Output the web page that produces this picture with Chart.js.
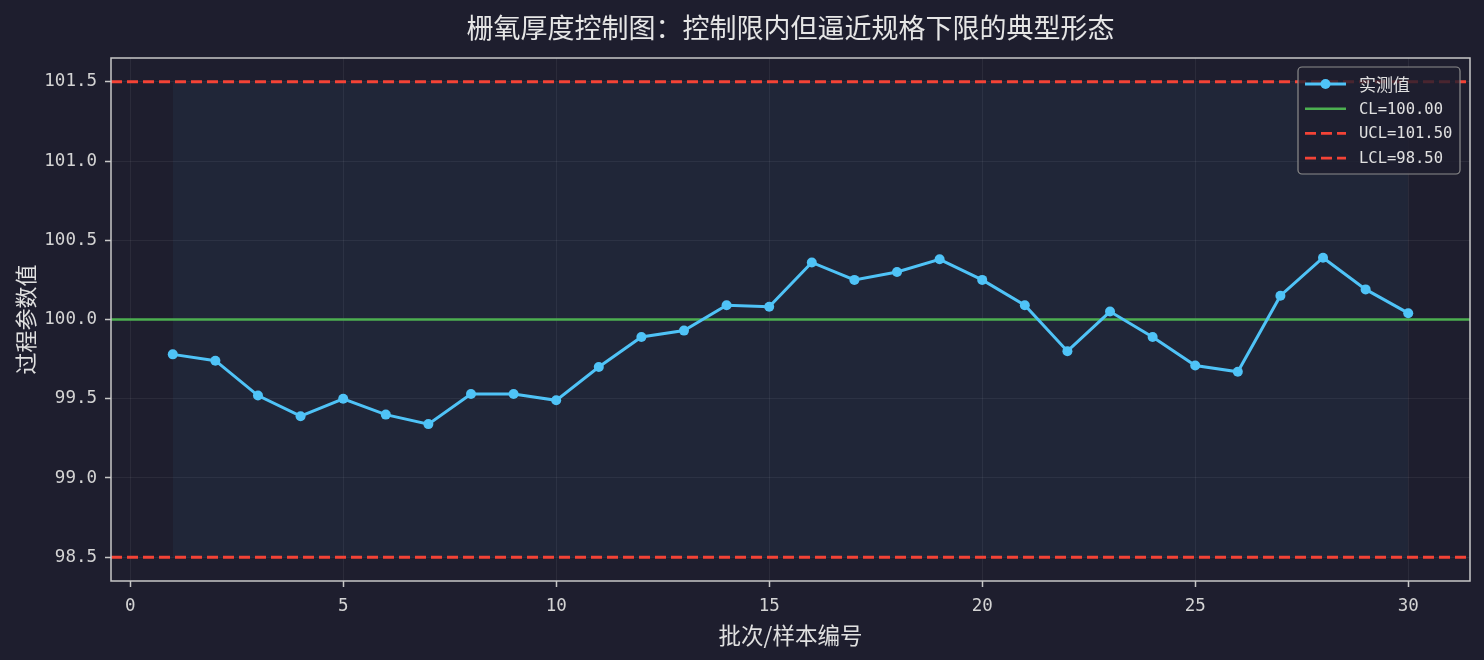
<!DOCTYPE html>
<html>
<head>
<meta charset="utf-8">
<script src="https://cdn.jsdelivr.net/npm/chart.js@4/dist/chart.umd.min.js"></script>
<style>
  html, body { margin: 0; padding: 0; background: #1e1e2e; }
  #wrap { width: 1484px; height: 660px; }
</style>
</head>
<body>
<div id="wrap"><canvas id="spc"></canvas></div>
<script>
// sample numbers and measured gate oxide thickness
const sampleNo = [1, 2, 3, 4, 5, 6, 7, 8, 9, 10, 11, 12, 13, 14, 15,
  16, 17, 18, 19, 20, 21, 22, 23, 24, 25, 26, 27, 28, 29, 30];
const measured = [99.78, 99.74, 99.52, 99.39, 99.50, 99.40, 99.34, 99.53, 99.53, 99.49,
  99.70, 99.89, 99.93, 100.09, 100.08, 100.36, 100.25, 100.30, 100.38, 100.25,
  100.09, 99.80, 100.05, 99.89, 99.71, 99.67, 100.15, 100.39, 100.19, 100.04];

const CL = 100.0;
const UCL = 101.5;
const LCL = 98.5;

const xTicks = [0, 5, 10, 15, 20, 25, 30];
const yTicks = [98.5, 99.0, 99.5, 100.0, 100.5, 101.0, 101.5];
const xMin = -0.45, xMax = 31.45;
const yMin = 98.35, yMax = 101.65;

const titleText = '栅氧厚度控制图：控制限内但逼近规格下限的典型形态';

const monoFont = "'DejaVu Sans Mono', 'Noto Sans CJK SC', monospace";
const cjkFont = "'Noto Sans CJK SC', 'Noto Sans', sans-serif";
const textColor = '#d4d4d4';
const gridColor = 'rgba(255,255,255,0.06)';

const hline = (y) => [{ x: xMin, y: y }, { x: xMax, y: y }];

const bgPlugin = {
  id: 'bg',
  beforeDraw(chart) {
    const ctx = chart.ctx;
    ctx.save();
    ctx.fillStyle = '#1e1e2e';
    ctx.fillRect(0, 0, chart.width, chart.height);
    ctx.restore();
  }
};

// title centred over the plot area (matplotlib style)
const axesTitle = {
  id: 'axesTitle',
  afterDraw(chart) {
    const { ctx, chartArea: a } = chart;
    ctx.save();
    ctx.font = '27px ' + cjkFont;
    ctx.fillStyle = '#e6e6e6';
    ctx.textAlign = 'center';
    ctx.textBaseline = 'middle';
    ctx.fillText(titleText, (a.left + a.right) / 2, a.top - 30);
    ctx.restore();
  }
};

const framePlugin = {
  id: 'frame',
  afterDatasetsDraw(chart) {
    const { ctx, chartArea: a } = chart;
    ctx.save();
    ctx.strokeStyle = '#c8c8c8';
    ctx.lineWidth = 1.5;
    ctx.strokeRect(a.left, a.top, a.right - a.left, a.bottom - a.top);
    ctx.restore();
  }
};

// legend in a rounded box, like the matplotlib one
const boxLegend = {
  id: 'boxLegend',
  afterDraw(chart) {
    const { ctx, chartArea: a } = chart;
    const items = chart.data.datasets.filter(d => d.label);
    const w = 162, h = 107;
    const x0 = a.right - 10 - w, y0 = a.top + 9;
    ctx.save();
    ctx.beginPath();
    ctx.roundRect(x0, y0, w, h, 4);
    ctx.fillStyle = 'rgba(30,30,46,0.8)';
    ctx.fill();
    ctx.strokeStyle = '#8c8c8c';
    ctx.lineWidth = 1.2;
    ctx.stroke();
    items.forEach((d, i) => {
      const cy = y0 + 17 + i * 24.7;
      ctx.beginPath();
      ctx.setLineDash(d.borderDash || []);
      ctx.strokeStyle = d.borderColor;
      ctx.lineWidth = d.borderWidth;
      ctx.moveTo(x0 + 7, cy);
      ctx.lineTo(x0 + 48, cy);
      ctx.stroke();
      ctx.setLineDash([]);
      if (d.pointRadius > 0) {
        ctx.beginPath();
        ctx.fillStyle = d.pointBackgroundColor;
        ctx.arc(x0 + 27.5, cy, d.pointRadius, 0, Math.PI * 2);
        ctx.fill();
      }
      const cjk = /[\u4e00-\u9fff]/.test(d.label);
      ctx.font = cjk ? '17px ' + cjkFont : '15.5px ' + monoFont;
      ctx.fillStyle = '#e0e0e0';
      ctx.textBaseline = 'middle';
      ctx.fillText(d.label, x0 + 61, cy + 1);
    });
    ctx.restore();
  }
};

new Chart(document.getElementById('spc'), {
  type: 'line',
  data: {
    datasets: [
      {
        label: '实测值',
        data: sampleNo.map((n, i) => ({ x: n, y: measured[i] })),
        borderColor: '#4fc3f7',
        backgroundColor: '#4fc3f7',
        pointBackgroundColor: '#4fc3f7',
        pointBorderWidth: 0,
        pointRadius: 5,
        borderWidth: 3,
        fill: false,
        tension: 0
      },
      {
        label: 'CL=' + CL.toFixed(2),
        data: hline(CL),
        borderColor: '#4caf50',
        borderWidth: 2.6,
        pointRadius: 0,
        fill: false
      },
      {
        label: 'UCL=' + UCL.toFixed(2),
        data: hline(UCL),
        borderColor: '#f44336',
        borderWidth: 2.8,
        borderDash: [11, 5],
        pointRadius: 0,
        fill: false
      },
      {
        label: 'LCL=' + LCL.toFixed(2),
        data: hline(LCL),
        borderColor: '#f44336',
        borderWidth: 2.8,
        borderDash: [11, 5],
        pointRadius: 0,
        fill: false
      },
      {
        // control band between limits over the sampled range
        data: [{ x: sampleNo[0], y: UCL }, { x: sampleNo[sampleNo.length - 1], y: UCL }],
        borderWidth: 0,
        pointRadius: 0,
        backgroundColor: 'rgba(79,195,247,0.05)',
        fill: { value: LCL }
      }
    ]
  },
  options: {
    responsive: true,
    maintainAspectRatio: false,
    animation: false,
    layout: { padding: { left: 0, right: 14, top: 58, bottom: 0 } },
    plugins: {
      legend: { display: false },
      tooltip: { enabled: false },
      title: { display: false }
    },
    scales: {
      x: {
        type: 'linear',
        min: xMin,
        max: xMax,
        afterBuildTicks: (s) => { s.ticks = xTicks.map(v => ({ value: v })); },
        afterFit: (s) => { s.height = 79; },
        border: { display: false },
        grid: { color: gridColor, lineWidth: 1, tickColor: '#c8c8c8', tickLength: 6, tickWidth: 1.5 },
        ticks: {
          color: textColor,
          font: { family: monoFont, size: 17.5 },
          padding: 9,
          maxRotation: 0,
          autoSkip: false,
          callback: (v) => String(v)
        },
        title: {
          display: true,
          text: '批次/样本编号',
          color: '#e0e0e0',
          font: { family: cjkFont, size: 22.5 },
          padding: { top: 0, bottom: 11 }
        }
      },
      y: {
        type: 'linear',
        min: yMin,
        max: yMax,
        afterBuildTicks: (s) => { s.ticks = yTicks.map(v => ({ value: v })); },
        afterFit: (s) => { s.width = 111; },
        border: { display: false },
        grid: { color: gridColor, lineWidth: 1, tickColor: '#c8c8c8', tickLength: 6, tickWidth: 1.5 },
        ticks: {
          color: textColor,
          font: { family: monoFont, size: 17.5 },
          padding: 8,
          callback: (v) => Number(v).toFixed(1)
        },
        title: {
          display: true,
          text: '过程参数值',
          color: '#e0e0e0',
          font: { family: cjkFont, size: 22 },
          padding: { top: 12, bottom: 0 }
        }
      }
    }
  },
  plugins: [bgPlugin, framePlugin, axesTitle, boxLegend]
});
</script>
</body>
</html>
